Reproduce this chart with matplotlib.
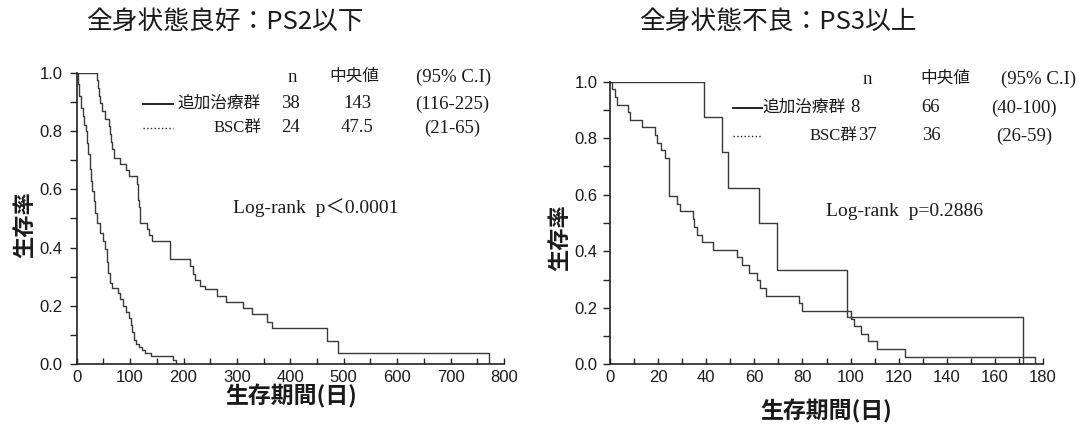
import matplotlib
matplotlib.use("Agg")
import matplotlib.pyplot as plt
from matplotlib.lines import Line2D
from matplotlib.ticker import MultipleLocator, FormatStrFormatter

# ---------------- data ----------------
ps2_trt_t = [0, 38, 39.5, 41, 44, 47, 53, 60, 62, 64, 67, 70, 82, 92, 97, 112, 114, 115,
             116, 118, 119, 131, 136, 141, 175, 212, 217, 222, 230, 240, 262, 279, 312,
             328, 357, 365, 469, 489, 771]
ps2_trt_s = [1.0, 0.974, 0.947, 0.921, 0.895, 0.868, 0.842, 0.816, 0.789, 0.763, 0.737,
             0.709, 0.686, 0.665, 0.646, 0.62, 0.59, 0.565, 0.54, 0.515, 0.486, 0.465,
             0.443, 0.423, 0.362, 0.337, 0.311, 0.29, 0.27, 0.257, 0.235, 0.215, 0.192,
             0.172, 0.146, 0.124, 0.080, 0.040, 0.0]

ps2_bsc_t = [0, 2, 5, 8, 11, 14, 17, 20, 22, 24, 26, 29, 32, 35, 38, 43, 49, 53, 56, 59,
             63, 66, 77, 81, 86, 92, 97, 101, 104, 107, 111, 116, 122, 128, 140, 180, 185]
ps2_bsc_s = [1.0, 0.96, 0.92, 0.88, 0.85, 0.82, 0.80, 0.76, 0.72, 0.67, 0.63, 0.595, 0.56,
             0.52, 0.486, 0.45, 0.423, 0.394, 0.35, 0.314, 0.28, 0.26, 0.245, 0.223, 0.2,
             0.18, 0.16, 0.135, 0.11, 0.085, 0.07, 0.06, 0.05, 0.04, 0.03, 0.015, 0.0]

ps3_trt_t = [0, 39.2, 46.5, 49.2, 62, 69.6, 98.5, 171.6]
ps3_trt_s = [1.0, 0.875, 0.75, 0.625, 0.5, 0.333, 0.167, 0.0]

ps3_bsc_t = [0, 1, 2, 2.8, 7.4, 8.3, 13.2, 18.7, 19.4, 21, 23, 24.5, 27.7, 29.1, 34.7,
             35.1, 36, 38.1, 43, 52.7, 54.7, 57.9, 61, 62.4, 64.9, 78.5, 79.7, 100.3,
             101.5, 104.4, 107.4, 111.1, 122.7, 176.7]
ps3_bsc_s = [1.0, 0.973, 0.946, 0.919, 0.892, 0.865, 0.838, 0.811, 0.784, 0.757, 0.730,
             0.595, 0.568, 0.541, 0.514, 0.486, 0.459, 0.432, 0.405, 0.378, 0.351, 0.324,
             0.297, 0.270, 0.243, 0.216, 0.189, 0.162, 0.135, 0.108, 0.081, 0.054, 0.027,
             0.0]

titles = ["全身状態良好：PS2以下", "全身状態不良：PS3以上"]
ylabel = "生存率"
xlabel = "生存期間(日)"
header = ["n", "中央値", "(95% C.I)"]
ps2_rows = [["追加治療群", "38", "143", "(116-225)"], ["BSC群", "24", "47.5", "(21-65)"]]
ps3_rows = [["追加治療群", "8", "66", "(40-100)"], ["BSC群", "37", "36", "(26-59)"]]
logrank = ["Log-rank  p＜0.0001", "Log-rank  p=0.2886"]

# ---------------- figure ----------------
W, H = 1079, 433
fig = plt.figure(figsize=(W / 100, H / 100), dpi=100)

def fx(px):
    return px / W

def fy(py):
    return 1 - py / H

CJK = ["Noto Sans CJK JP", "DejaVu Sans"]
SERIF = ["Liberation Serif", "Noto Sans CJK JP"]
SANS = ["Liberation Sans", "DejaVu Sans"]
LC = "#3a3a3a"
TC = "#1a1a1a"

def setup_axes(rect, xmax, xmaj, xmin, ypad):
    ax = fig.add_axes(rect)
    ax.set_xlim(0, xmax)
    ax.set_ylim(0, 1.0)
    for s in ["top", "right"]:
        ax.spines[s].set_visible(False)
    for s in ["left", "bottom"]:
        ax.spines[s].set_linewidth(1.2)
        ax.spines[s].set_color("#222222")
    ax.xaxis.set_major_locator(MultipleLocator(xmaj))
    ax.xaxis.set_minor_locator(MultipleLocator(xmin))
    ax.yaxis.set_major_locator(MultipleLocator(0.2))
    ax.yaxis.set_minor_locator(MultipleLocator(0.1))
    ax.yaxis.set_major_formatter(FormatStrFormatter("%.1f"))
    ax.tick_params(axis="x", which="both", direction="in", length=4.5, width=1.0,
                   color="#222222", pad=4)
    ax.tick_params(axis="y", which="both", direction="out", length=5, width=1.0,
                   color="#222222", pad=ypad)
    for lab in ax.get_xticklabels() + ax.get_yticklabels():
        lab.set_family(SANS)
        lab.set_fontsize(12)
        lab.set_color(TC)
    ax.patch.set_alpha(0)
    return ax

# left panel
axL = setup_axes([fx(76.7), fy(364.3), 427.3 / W, 291.6 / H], 800, 100, 50, 5)
axL.step(ps2_trt_t, ps2_trt_s, where="post", color=LC, lw=1.0)
axL.step(ps2_bsc_t, ps2_bsc_s, where="post", color=LC, lw=1.0)

# right panel
axR = setup_axes([fx(610), fy(364.3), 433.0 / W, 282.6 / H], 180, 20, 10, 4)
axR.step(ps3_trt_t, ps3_trt_s, where="post", color=LC, lw=1.0)
axR.step(ps3_bsc_t, ps3_bsc_s, where="post", color=LC, lw=1.0)

# titles
fig.text(fx(225), fy(22), titles[0], family=CJK, fontsize=18.5, ha="center", va="center",
         color=TC)
fig.text(fx(778), fy(22), titles[1], family=CJK, fontsize=18.5, ha="center", va="center",
         color=TC)

# axis labels
for (x, y) in [(25, 225), (560, 238)]:
    fig.text(fx(x), fy(y), ylabel, family=CJK, fontsize=16, fontweight="bold",
             rotation=90, ha="center", va="center", color=TC)
for (x, y) in [(291, 396), (826, 411)]:
    fig.text(fx(x), fy(y), xlabel, family=CJK, fontsize=16.5, fontweight="bold",
             ha="center", va="center", color=TC)

# legend tables
FS_J = 12
FS_N = 13.5

def table(rows, hy, ry, line_x, names, ns, med_c, ci_c, head_x):
    fig.text(fx(head_x[0]), fy(hy), header[0], family=SERIF, fontsize=FS_N, ha="center",
             va="center", color=TC)
    fig.text(fx(head_x[1]), fy(hy), header[1], family=SERIF, fontsize=FS_J, ha="center",
             va="center", color=TC)
    fig.text(fx(head_x[2]), fy(hy), header[2], family=SERIF, fontsize=FS_N, ha="center",
             va="center", color=TC)
    styles = ["-", ":"]
    for i, r in enumerate(rows):
        y = ry[i]
        fig.add_artist(Line2D([fx(line_x[0]), fx(line_x[1])], [fy(y), fy(y)],
                              transform=fig.transFigure, color="#222222",
                              lw=1.4 if i == 0 else 1.0, linestyle=styles[i]))
        fig.text(fx(names[i]), fy(y), r[0], family=SERIF, fontsize=FS_J, ha="right",
                 va="center", color=TC)
        fig.text(fx(ns[i][0]), fy(y), r[1], family=SERIF, fontsize=FS_N, ha=ns[i][1],
                 va="center", color=TC)
        fig.text(fx(med_c), fy(y), r[2], family=SERIF, fontsize=FS_N, ha="center",
                 va="center", color=TC)
        fig.text(fx(ci_c), fy(y), r[3], family=SERIF, fontsize=FS_N, ha="center",
                 va="center", color=TC)

table(ps2_rows, 77, [104, 128], (143, 173), [261, 261], [(300, "right"), (300, "right")],
      357, 452, (292, 354, 454))
table(ps3_rows, 79, [108, 136], (733, 762), [846, 857], [(850, "left"), (858, "left")],
      931, 1024, (867, 945, 1039))

fig.text(fx(316), fy(208), logrank[0], family=SERIF, fontsize=14, ha="center", va="center",
         color=TC)
fig.text(fx(905), fy(212), logrank[1], family=SERIF, fontsize=14, ha="center", va="center",
         color=TC)

fig.savefig("out.png", dpi=100)
